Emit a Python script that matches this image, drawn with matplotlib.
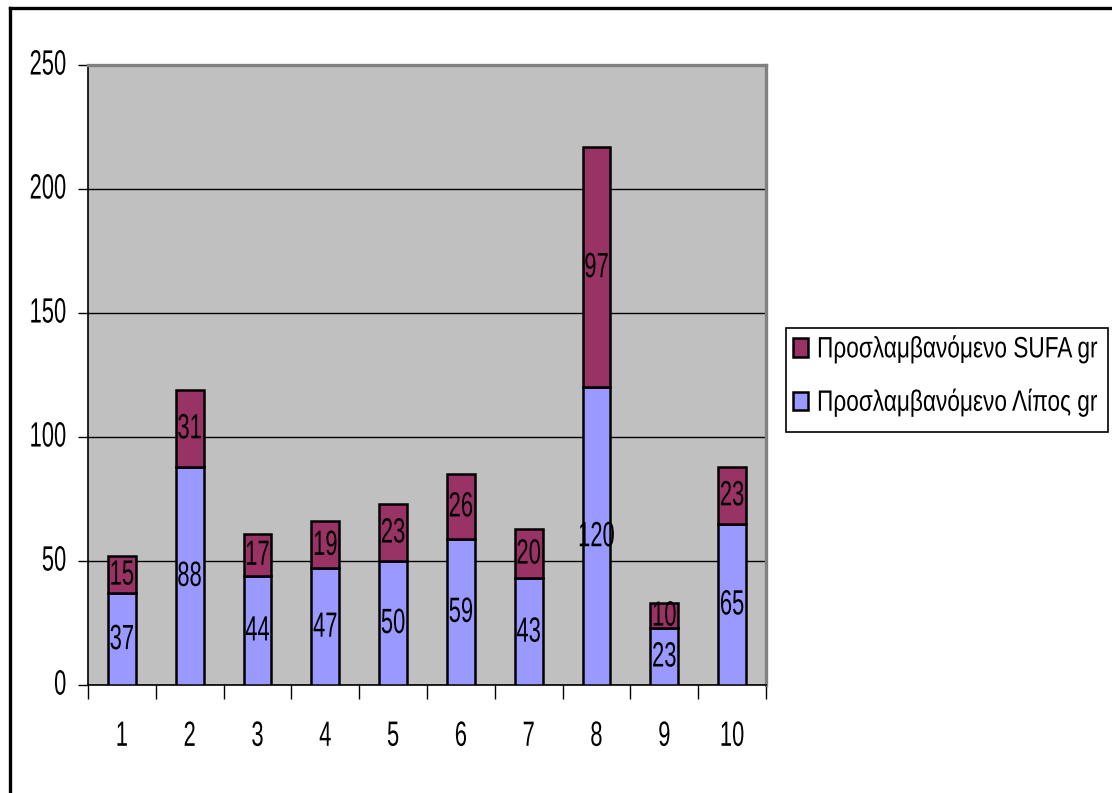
import matplotlib
matplotlib.use("Agg")
import matplotlib.pyplot as plt
from matplotlib.lines import Line2D
from matplotlib.patches import Rectangle
from matplotlib.transforms import Affine2D
from matplotlib import patheffects
import numpy as np

categories = ["1", "2", "3", "4", "5", "6", "7", "8", "9", "10"]
fat_g = [37, 88, 44, 47, 50, 59, 43, 120, 23, 65]
sufa_g = [15, 31, 17, 19, 23, 26, 20, 97, 10, 23]
series_names = ["Προσλαμβανόμενο Λίπος gr", "Προσλαμβανόμενο SUFA gr"]
y_ticks = [0, 50, 100, 150, 200, 250]

plt.rcParams["font.family"] = ["Liberation Sans", "DejaVu Sans"]


class Tall(patheffects.AbstractPathEffect):
    """Draw glyphs stretched vertically about their own middle,
    optionally nudged up by a few pixels."""

    def __init__(self, sy=1.5, lift=0.0):
        super().__init__()
        self.sy = sy
        self.lift = lift

    def draw_path(self, renderer, gc, tpath, affine, rgbFace=None):
        ext = tpath.get_extents()
        cy = 0.5 * (ext.y0 + ext.y1)
        t = (Affine2D().translate(0, -cy).scale(1.0, self.sy).translate(0, cy)
             + affine + Affine2D().translate(0, self.lift))
        renderer.draw_path(gc, tpath, t, rgbFace)


W, H = 1112, 793
FS = 15.8
TALL = [Tall(1.6)]
fig = plt.figure(figsize=(W / 100, H / 100), dpi=100)
ax = fig.add_axes([88 / W, 1 - 685 / H, (766 - 88) / W, (685 - 65) / H])

ax.set_facecolor("#C0C0C0")
x = np.arange(len(categories))
bar_w = 0.41
b1 = ax.bar(x, fat_g, bar_w, color="#9999FF", edgecolor="black", linewidth=1.8,
            label=series_names[0], zorder=3)
b2 = ax.bar(x, sufa_g, bar_w, bottom=fat_g, color="#993366", edgecolor="black",
            linewidth=1.8, label=series_names[1], zorder=3)

for xi, v in zip(x, fat_g):
    ax.text(xi, v / 2, str(v), ha="center", va="center", fontsize=FS, zorder=4,
            path_effects=TALL)
for xi, base, v in zip(x, fat_g, sufa_g):
    ax.text(xi, base + v / 2, str(v), ha="center", va="center", fontsize=FS, zorder=4,
            path_effects=TALL)

ax.set_xlim(-0.5, len(categories) - 0.5)
ax.set_ylim(0, 250)
ax.set_yticks(y_ticks)
ax.set_yticklabels([str(t) for t in y_ticks], fontsize=FS)
ax.yaxis.grid(True, color="black", linewidth=1.0, zorder=1)
ax.set_axisbelow(True)

# category ticks sit on the boundaries, labels in the middle
ax.set_xticks(np.arange(-0.5, len(categories), 1.0))
ax.set_xticklabels([])
ax.set_xticks(x, minor=True)
ax.set_xticklabels(categories, minor=True, fontsize=FS)
ax.tick_params(axis="x", which="major", length=10, width=1, color="black", direction="out")
ax.tick_params(axis="x", which="minor", length=0, pad=29)
ax.tick_params(axis="y", length=7, width=1, color="black", direction="out", pad=8.6)

for lbl in ax.get_yticklabels():
    lbl.set_path_effects([Tall(1.6, lift=3)])
for lbl in ax.get_xticklabels(minor=True):
    lbl.set_path_effects(TALL)

for side in ("left", "bottom"):
    ax.spines[side].set_color("black")
    ax.spines[side].set_linewidth(1.2)
for side in ("top", "right"):
    ax.spines[side].set_color("#808080")
    ax.spines[side].set_linewidth(2.4)

# legend: entries listed top series first, with a fixed frame around them
leg = fig.legend([b2, b1], [series_names[1], series_names[0]],
                 loc="upper left", bbox_to_anchor=(793 / W, 1 - 337 / H),
                 fontsize=16.3, frameon=False, borderpad=0,
                 handlelength=0.66, handleheight=0.88, handletextpad=0.4,
                 labelspacing=1.32, borderaxespad=0)
for t in leg.get_texts():
    t.set_path_effects([Tall(1.3)])
fig.add_artist(Rectangle((785.5 / W, 1 - 432 / H), (1108 - 785.5) / W, (432 - 328) / H,
                         transform=fig.transFigure, facecolor="none",
                         edgecolor="black", linewidth=1.2))

# outer chart frame (top and left edges)
fig.add_artist(Line2D([9.5 / W, 9.5 / W], [0, 1 - 7.5 / H], color="black",
                      linewidth=2.4, transform=fig.transFigure))
fig.add_artist(Line2D([9.5 / W, 1], [1 - 7.5 / H, 1 - 7.5 / H], color="black",
                      linewidth=2.4, transform=fig.transFigure))

fig.savefig("out.png", dpi=100, facecolor="white")
